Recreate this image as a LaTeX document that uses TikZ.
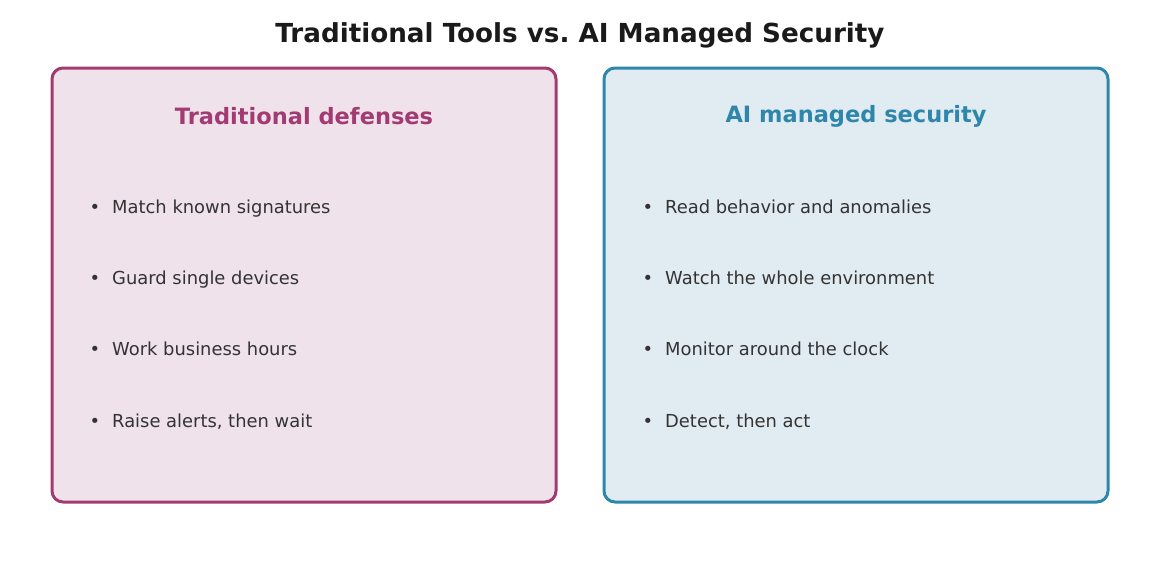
\documentclass[tikz,border=0pt]{standalone}
\usepackage{fontspec}
\setmainfont{DejaVu Sans}
\definecolor{magc}{HTML}{A23B72}
\definecolor{magf}{HTML}{F0E2EB}
\definecolor{bluc}{HTML}{2E86AB}
\definecolor{bluf}{HTML}{E1ECF2}
\definecolor{txt}{HTML}{333333}
\definecolor{ttl}{HTML}{1A1A1A}
\tikzset{
  panel/.style={line width=3pt, rounded corners=11pt},
  head/.style={font=\fontsize{22.5}{27}\selectfont\bfseries, anchor=center},
  item/.style={font=\fontsize{17.9}{21}\selectfont, text=txt, anchor=base west, inner sep=0pt},
  bul/.style={font=\fontsize{17.9}{21}\selectfont, text=txt, anchor=base, inner sep=0pt},
}
\begin{document}
\frenchspacing
\begin{tikzpicture}[x=1pt,y=-1pt]
\useasboundingbox (0,0) rectangle (1160,571);
\node[font=\fontsize{26.2}{31}\selectfont\bfseries, text=ttl] (title) at (580,35) {Traditional Tools vs.\ AI Managed Security};
\draw[panel, draw=magc, fill=magf] (52,68) rectangle (556,502);
\draw[panel, draw=bluc, fill=bluf] (604,68) rectangle (1108,502);
\node[head, text=magc] (lh) at (304,116) {Traditional defenses};
\node[head, text=bluc] (rh) at (856,116) {AI managed security};
\foreach \y/\t [count=\i] in {213/Match known signatures, 284/Guard single devices, 355/Work business hours, 427/{Raise alerts, then wait}} {
  \node[bul] (lb\i) at (95,\y) {•};
  \node[item] (l\i) at (112,\y) {\t};
}
\foreach \y/\t [count=\i] in {213/Read behavior and anomalies, 284/Watch the whole environment, 355/Monitor around the clock, 427/{Detect, then act}} {
  \node[bul] (rb\i) at (648,\y) {•};
  \node[item] (r\i) at (665,\y) {\t};
}
\end{tikzpicture}
\end{document}
